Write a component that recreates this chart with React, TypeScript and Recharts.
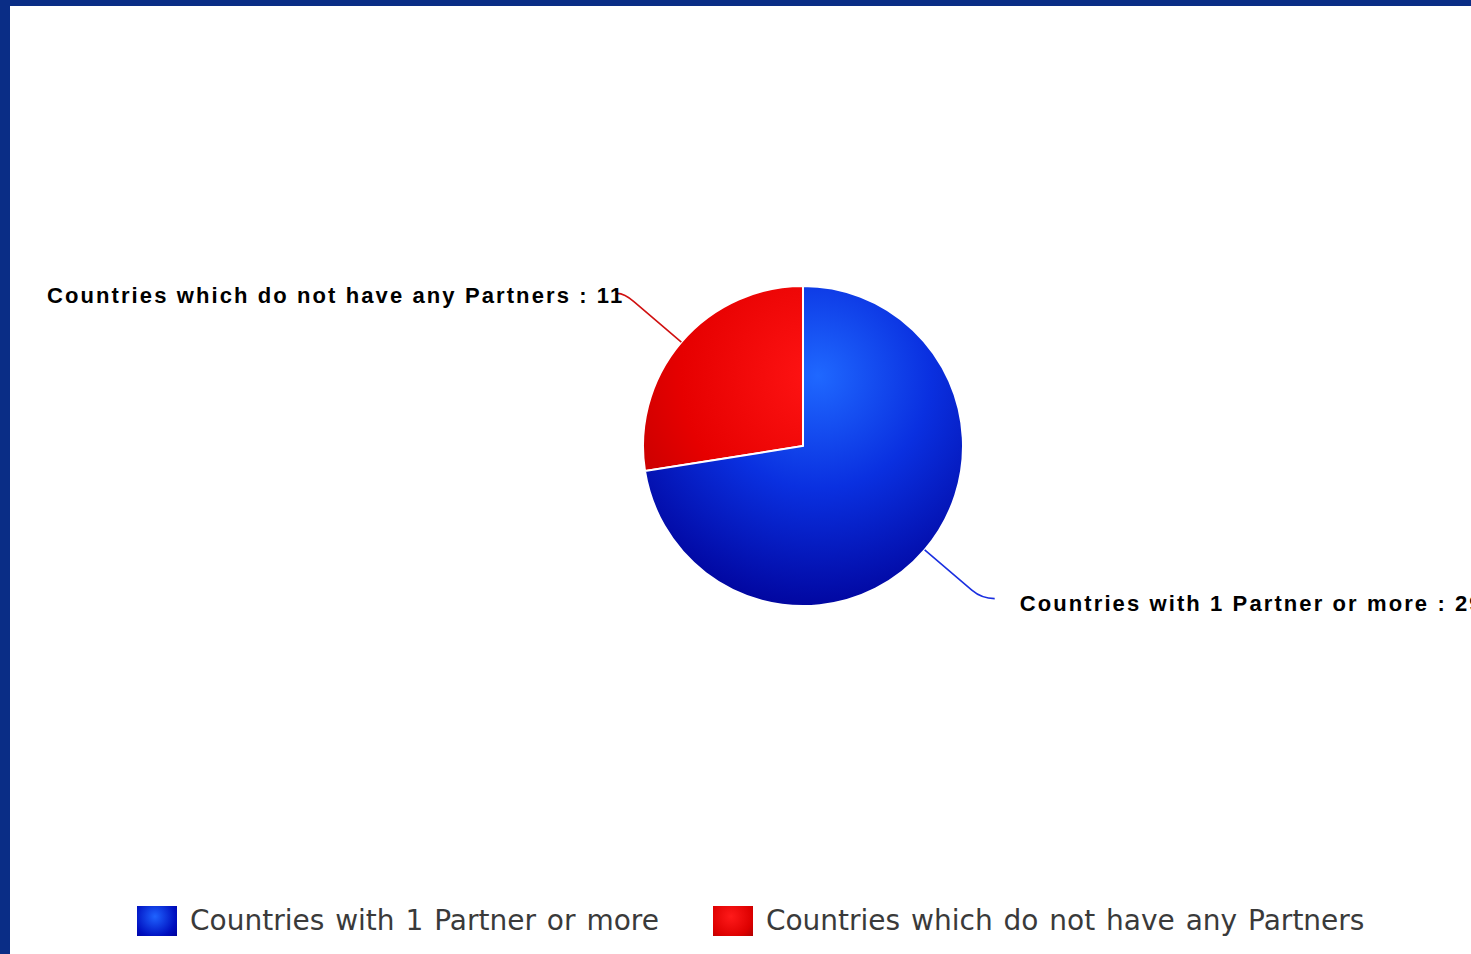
import { Cell, Legend, Pie, PieChart } from 'recharts'

// slices are drawn counterclockwise from 12 o'clock, red first
const categories = ['Countries which do not have any Partners', 'Countries with 1 Partner or more']
const counts = [11, 29]
const legendOrder = ['Countries with 1 Partner or more', 'Countries which do not have any Partners']

const FILL: Record<string, string> = {
  'Countries with 1 Partner or more': 'url(#blueGrad)',
  'Countries which do not have any Partners': 'url(#redGrad)',
}
const LINE: Record<string, string> = {
  'Countries with 1 Partner or more': '#1a2fe0',
  'Countries which do not have any Partners': '#d01010',
}
const SWATCH: Record<string, string> = {
  'Countries with 1 Partner or more': 'radial-gradient(circle at 45% 35%, #1f63ff, #0010c0 70%, #00009a)',
  'Countries which do not have any Partners': 'radial-gradient(circle at 45% 35%, #ff1a1a, #dd0000 70%, #b00000)',
}

const data = categories.map((name, i) => ({ name, value: counts[i] }))

const CX = 793
const CY = 440
const R = 160
const RAD = Math.PI / 180

function geom(midAngle: number) {
  const dx = Math.cos(-midAngle * RAD)
  const dy = Math.sin(-midAngle * RAD)
  const at = (r: number) => ({ x: CX + r * dx, y: CY + r * dy })
  return { dx, start: at(R), p1: at(R + 62), ctrl: at(R + 75) }
}

function LabelLine(props: any) {
  const { midAngle, payload } = props
  const g = geom(midAngle)
  const sign = g.dx >= 0 ? 1 : -1
  const endX = g.ctrl.x + sign * (sign > 0 ? 13 : 7)
  const d = `M${g.start.x},${g.start.y} L${g.p1.x},${g.p1.y} Q${g.ctrl.x},${g.ctrl.y} ${endX},${g.ctrl.y}`
  return <path d={d} fill="none" stroke={LINE[payload.name]} strokeWidth={1.6} />
}

function SliceLabel(props: any) {
  const { midAngle, name, value } = props
  const g = geom(midAngle)
  const right = g.dx >= 0
  return (
    <text
      x={right ? g.ctrl.x + 38 : g.ctrl.x}
      y={right ? g.ctrl.y + 12 : g.ctrl.y + 10}
      textAnchor={right ? 'start' : 'end'}
      fontFamily="'Liberation Sans', Arial, sans-serif"
      fontWeight="bold"
      fontSize={22}
      letterSpacing={2.1}
      fill="#000"
    >
      {`${name} : ${value}`}
    </text>
  )
}

function LegendContent() {
  return (
    <div style={{ display: 'flex', alignItems: 'center' }}>
      {legendOrder.map((name) => (
        <div key={name} style={{ display: 'flex', alignItems: 'center', marginRight: 54 }}>
          <span style={{ width: 40, height: 30, background: SWATCH[name], display: 'inline-block', marginRight: 13 }} />
          <span
            style={{
              fontFamily: "'DejaVu Sans', sans-serif",
              fontSize: 28,
              wordSpacing: 2,
              color: '#3a3a3a',
              whiteSpace: 'nowrap',
            }}
          >
            {name}
          </span>
        </div>
      ))}
    </div>
  )
}

export default function App() {
  return (
    <div style={{ position: 'fixed', left: 0, top: 0, width: 1471, height: 954, background: '#0a2d86', overflow: 'hidden' }}>
      <div style={{ position: 'absolute', left: 10, top: 6, width: 1461, height: 948, background: '#fff' }}>
        <PieChart width={1461} height={948} margin={{ top: 0, right: 0, bottom: 0, left: 0 }}>
          <defs>
            <radialGradient id="blueGrad" gradientUnits="userSpaceOnUse" cx={CX + 15} cy={CY - 70} r={250}>
              <stop offset="0%" stopColor="#1f68ff" />
              <stop offset="45%" stopColor="#0a30e0" />
              <stop offset="100%" stopColor="#000096" />
            </radialGradient>
            <radialGradient id="redGrad" gradientUnits="userSpaceOnUse" cx={CX + 15} cy={CY - 70} r={250}>
              <stop offset="0%" stopColor="#ff1414" />
              <stop offset="55%" stopColor="#e60000" />
              <stop offset="100%" stopColor="#b40000" />
            </radialGradient>
          </defs>
          <Pie
            data={data}
            dataKey="value"
            nameKey="name"
            cx={CX}
            cy={CY}
            outerRadius={R}
            startAngle={90}
            endAngle={450}
            stroke="#fff"
            strokeWidth={2}
            label={SliceLabel}
            labelLine={LabelLine}
            isAnimationActive={false}
          >
            {data.map((d) => (
              <Cell key={d.name} fill={FILL[d.name]} />
            ))}
          </Pie>
          <Legend
            content={LegendContent}
            wrapperStyle={{ left: 127, top: 898, bottom: 'auto', width: 1300 }}
          />
        </PieChart>
      </div>
    </div>
  )
}
